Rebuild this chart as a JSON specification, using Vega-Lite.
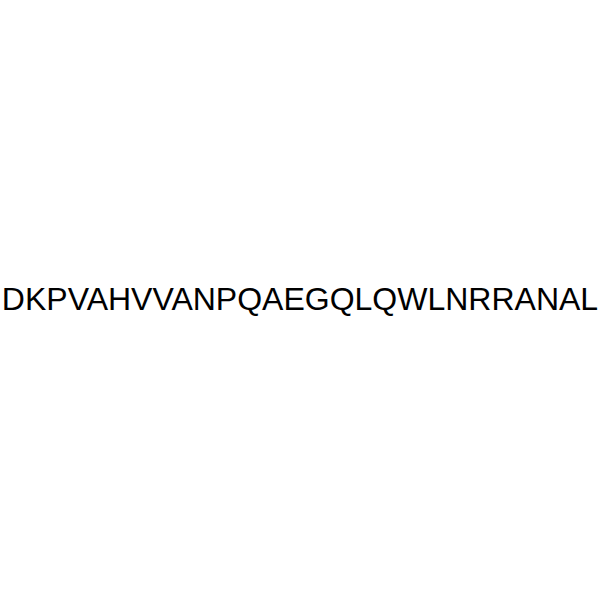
{
  "$schema": "https://vega.github.io/schema/vega-lite/v6.json",
  "width": 600,
  "height": 600,
  "autosize": {"type": "fit", "contains": "padding"},
  "padding": 0,
  "background": "white",
  "config": {"view": {"stroke": null}},
  "data": {"values": [{"sequence": "DKPVAHVVANPQAEGQLQWLNRRANAL"}]},
  "mark": {
    "type": "text",
    "font": "Liberation Sans",
    "fontSize": 32,
    "color": "black",
    "align": "center",
    "baseline": "middle"
  },
  "encoding": {
    "text": {"field": "sequence", "type": "nominal"}
  }
}
